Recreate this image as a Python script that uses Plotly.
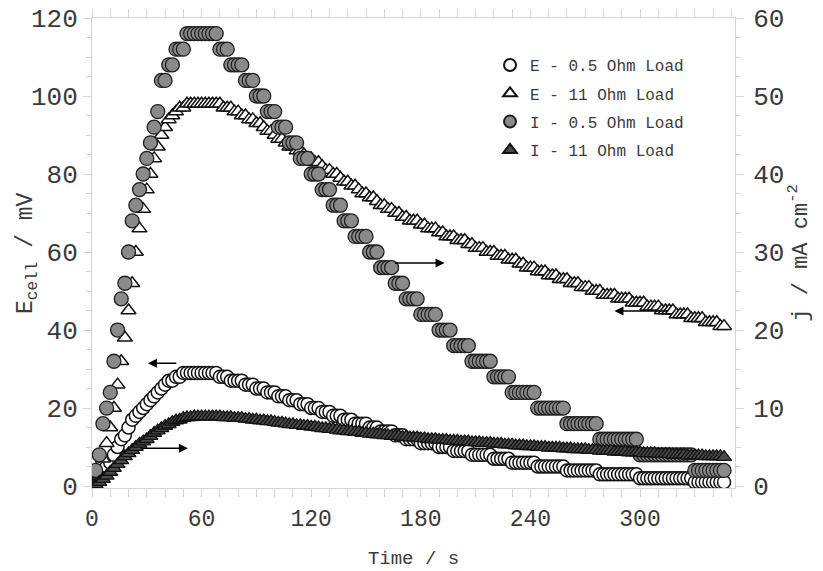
import plotly.graph_objects as go

# sampling every 2 s
time_s = list(range(0, 347, 2))

# E - 0.5 Ohm load (mV, left axis)
e_05 = [
    0, 1, 2, 3, 5, 6, 8, 10, 12, 13,
    15, 17, 18, 19, 20, 21, 22, 23, 24, 25,
    26, 27, 27, 28, 28, 29, 29, 29, 29, 29,
    29, 29, 29, 29, 29, 28, 28, 28, 27, 27,
    27, 27, 26, 26, 26, 25, 25, 25, 24, 24,
    24, 23, 23, 23, 22, 22, 22, 21, 21, 21,
    20, 20, 20, 19, 19, 19, 18, 18, 18, 17,
    17, 17, 16, 16, 16, 16, 15, 15, 15, 14,
    14, 14, 14, 13, 13, 13, 12, 12, 12, 12,
    11, 11, 11, 11, 11, 10, 10, 10, 10, 9,
    9, 9, 9, 9, 8, 8, 8, 8, 8, 8,
    7, 7, 7, 7, 7, 6, 6, 6, 6, 6,
    6, 6, 5, 5, 5, 5, 5, 5, 5, 5,
    4, 4, 4, 4, 4, 4, 4, 4, 4, 3,
    3, 3, 3, 3, 3, 3, 3, 3, 3, 3,
    2, 2, 2, 2, 2, 2, 2, 2, 2, 2,
    2, 2, 2, 2, 2, 1, 1, 1, 1, 1,
    1, 1, 1, 1,
]

# E - 11 Ohm load (mV, left axis)
e_11 = [
    0, 1, 3, 7, 11, 15, 20, 26, 32, 38,
    45, 52, 60, 66, 71, 76, 80, 84, 87, 90,
    92, 94, 95, 96, 97, 97, 98, 98, 98, 98,
    98, 98, 98, 98, 98, 98, 97, 97, 97, 96,
    96, 95, 95, 94, 94, 93, 93, 92, 91, 91,
    90, 89, 89, 88, 87, 87, 86, 86, 85, 84,
    84, 83, 83, 82, 81, 81, 80, 80, 79, 78,
    78, 77, 77, 76, 75, 75, 74, 74, 73, 72,
    72, 71, 71, 70, 70, 69, 69, 68, 68, 68,
    67, 67, 66, 66, 66, 65, 65, 64, 64, 64,
    63, 63, 63, 62, 62, 61, 61, 61, 60, 60,
    60, 59, 59, 59, 58, 58, 58, 57, 57, 56,
    56, 56, 55, 55, 55, 54, 54, 54, 53, 53,
    53, 52, 52, 52, 51, 51, 51, 50, 50, 50,
    49, 49, 49, 49, 48, 48, 48, 48, 47, 47,
    47, 47, 46, 46, 46, 46, 45, 45, 45, 45,
    44, 44, 44, 44, 43, 43, 43, 43, 42, 42,
    42, 42, 41, 41,
]

# I - 0.5 Ohm load (mA cm-2, right axis)
i_05 = [
    0, 2, 4, 8, 10, 12, 16, 20, 24, 26,
    30, 34, 36, 38, 40, 42, 44, 46, 48, 52,
    52, 54, 54, 56, 56, 56, 58, 58, 58, 58,
    58, 58, 58, 58, 58, 56, 56, 56, 54, 54,
    54, 54, 52, 52, 52, 50, 50, 50, 48, 48,
    48, 46, 46, 46, 44, 44, 44, 42, 42, 42,
    40, 40, 40, 38, 38, 38, 36, 36, 36, 34,
    34, 34, 32, 32, 32, 32, 30, 30, 30, 28,
    28, 28, 28, 26, 26, 26, 24, 24, 24, 24,
    22, 22, 22, 22, 22, 20, 20, 20, 20, 18,
    18, 18, 18, 18, 16, 16, 16, 16, 16, 16,
    14, 14, 14, 14, 14, 12, 12, 12, 12, 12,
    12, 12, 10, 10, 10, 10, 10, 10, 10, 10,
    8, 8, 8, 8, 8, 8, 8, 8, 8, 6,
    6, 6, 6, 6, 6, 6, 6, 6, 6, 6,
    4, 4, 4, 4, 4, 4, 4, 4, 4, 4,
    4, 4, 4, 4, 4, 2, 2, 2, 2, 2,
    2, 2, 2, 2,
]

# I - 11 Ohm load (mA cm-2, right axis)
i_11 = [
    0, 0.2, 0.5, 0.9, 1.3, 1.8, 2.3, 2.8, 3.3, 3.8,
    4.2, 4.6, 5.0, 5.4, 5.7, 6.0, 6.4, 6.8, 7.1, 7.4,
    7.7, 7.9, 8.2, 8.4, 8.5, 8.7, 8.8, 8.8, 8.9, 8.9,
    8.9, 8.9, 8.9, 8.9, 8.9, 8.9, 8.8, 8.8, 8.8, 8.7,
    8.7, 8.7, 8.6, 8.6, 8.5, 8.5, 8.4, 8.4, 8.3, 8.3,
    8.2, 8.1, 8.1, 8.0, 7.9, 7.9, 7.8, 7.8, 7.7, 7.7,
    7.6, 7.6, 7.5, 7.4, 7.4, 7.3, 7.3, 7.2, 7.1, 7.1,
    7.0, 7.0, 6.9, 6.9, 6.8, 6.8, 6.7, 6.7, 6.6, 6.6,
    6.5, 6.5, 6.4, 6.4, 6.4, 6.3, 6.3, 6.2, 6.2, 6.2,
    6.1, 6.1, 6.0, 6.0, 6.0, 5.9, 5.9, 5.9, 5.8, 5.8,
    5.8, 5.7, 5.7, 5.7, 5.6, 5.6, 5.6, 5.5, 5.5, 5.5,
    5.4, 5.4, 5.4, 5.3, 5.3, 5.3, 5.2, 5.2, 5.2, 5.1,
    5.1, 5.1, 5.0, 5.0, 5.0, 4.9, 4.9, 4.9, 4.9, 4.8,
    4.8, 4.8, 4.7, 4.7, 4.7, 4.7, 4.6, 4.6, 4.6, 4.5,
    4.5, 4.5, 4.5, 4.4, 4.4, 4.4, 4.4, 4.3, 4.3, 4.3,
    4.3, 4.2, 4.2, 4.2, 4.2, 4.1, 4.1, 4.1, 4.1, 4.0,
    4.0, 4.0, 4.0, 3.9, 3.9, 3.9, 3.9, 3.9, 3.8, 3.8,
    3.8, 3.8, 3.8, 3.7,
]

x_ticks = [0, 60, 120, 180, 240, 300]
legend_names = ["E - 0.5 Ohm Load", "E - 11 Ohm Load", "I - 0.5 Ohm Load", "I - 11 Ohm Load"]

# arrows: (head time, tail time, level on left axis)
arrows = [
    (193, 165, 57.2),
    (30.6, 47, 31.5),
    (286, 316, 44.9),
    (52.5, 26, 9.7),
]

FONT = "Liberation Mono, Courier New, monospace"
AXC = "#d4d4d4"
TXT = "#3a3a3a"

fig = go.Figure()
fig.add_trace(go.Scatter(
    x=time_s, y=e_05, mode="markers", name=legend_names[0], legendgroup="a",
    marker=dict(symbol="circle", size=13, color="white", line=dict(color="#111111", width=1.5)),
))
fig.add_trace(go.Scatter(
    x=time_s, y=e_11, mode="markers", name=legend_names[1], legendgroup="b",
    marker=dict(symbol="triangle-up", size=13, color="white", line=dict(color="#111111", width=1.5)),
))
fig.add_trace(go.Scatter(
    x=time_s, y=i_05, mode="markers", name=legend_names[2], legendgroup="c", yaxis="y2",
    marker=dict(symbol="circle", size=14, color="#8a8a8a", line=dict(color="#1e1e1e", width=1.3)),
))
fig.add_trace(go.Scatter(
    x=time_s, y=i_11, mode="markers", name=legend_names[3], legendgroup="d", yaxis="y2",
    marker=dict(symbol="triangle-up", size=13, color="#4a4a4a", line=dict(color="#111111", width=1.3)),
))

annotations = []
for head, tail, lvl in arrows:
    annotations.append(dict(
        x=head, y=lvl, ax=tail, ay=lvl, xref="x", yref="y", axref="x", ayref="y",
        text="", showarrow=True, arrowhead=2, arrowsize=1.2, arrowwidth=1.5,
        arrowcolor="black", standoff=0, startstandoff=0,
    ))

# left axis title, placed a little closer to the tick labels than plotly's default
annotations.append(dict(
    text="E<sub>cell</sub> / mV", xref="paper", yref="paper", x=-0.101, y=0.5,
    xanchor="center", yanchor="middle", textangle=-90, showarrow=False,
    font=dict(family=FONT, size=23, color=TXT),
))

fig.update_layout(
    width=823, height=571,
    margin=dict(l=92, r=88, t=18, b=83, autoexpand=False),
    paper_bgcolor="white", plot_bgcolor="white",
    font=dict(family=FONT, color=TXT),
    showlegend=True,
    legend=dict(
        x=0.619, y=0.936, xanchor="left", yanchor="top",
        font=dict(family=FONT, size=16, color=TXT),
        bgcolor="rgba(0,0,0,0)", tracegroupgap=4.5, traceorder="grouped",
        itemsizing="constant",
    ),
    xaxis=dict(
        range=[0, 352], tickvals=x_ticks, ticks="outside", ticklen=8, tickwidth=1,
        tickcolor=AXC, showline=True, linecolor=AXC, linewidth=1, mirror="allticks",
        showgrid=False, zeroline=False, automargin=False, ticklabelstandoff=1,
        minor=dict(dtick=10, ticks="outside", ticklen=5, tickcolor=AXC, showgrid=False),
        tickfont=dict(family=FONT, size=23, color=TXT),
        title=dict(text="Time / s", font=dict(family=FONT, size=19, color=TXT), standoff=19),
    ),
    yaxis=dict(
        range=[-0.5, 120], dtick=20, ticks="outside", ticklen=8, tickwidth=1,
        tickcolor=AXC, showline=True, linecolor=AXC, linewidth=1,
        showgrid=False, zeroline=False, automargin=False,
        minor=dict(dtick=5, ticks="outside", ticklen=5, tickcolor=AXC, showgrid=False),
        tickfont=dict(family=FONT, size=26, color=TXT),
    ),
    yaxis2=dict(
        range=[-0.25, 60], dtick=10, overlaying="y", side="right",
        ticks="outside", ticklen=8, tickwidth=1,
        tickcolor=AXC, showline=True, linecolor=AXC, linewidth=1,
        showgrid=False, zeroline=False, automargin=False, ticklabelstandoff=4,
        minor=dict(dtick=2.5, ticks="outside", ticklen=5, tickcolor=AXC, showgrid=False),
        tickfont=dict(family=FONT, size=26, color=TXT),
        title=dict(text="j / mA cm<sup>-2</sup>", font=dict(family=FONT, size=22, color=TXT), standoff=6),
    ),
    annotations=annotations,
)

# remove the browser's default page margin so the figure sits at the window's corner
fig.write_html(
    "out.html",
    config={"displayModeBar": False},
    post_script="document.body.style.margin='0px';document.body.style.padding='0px';",
)
